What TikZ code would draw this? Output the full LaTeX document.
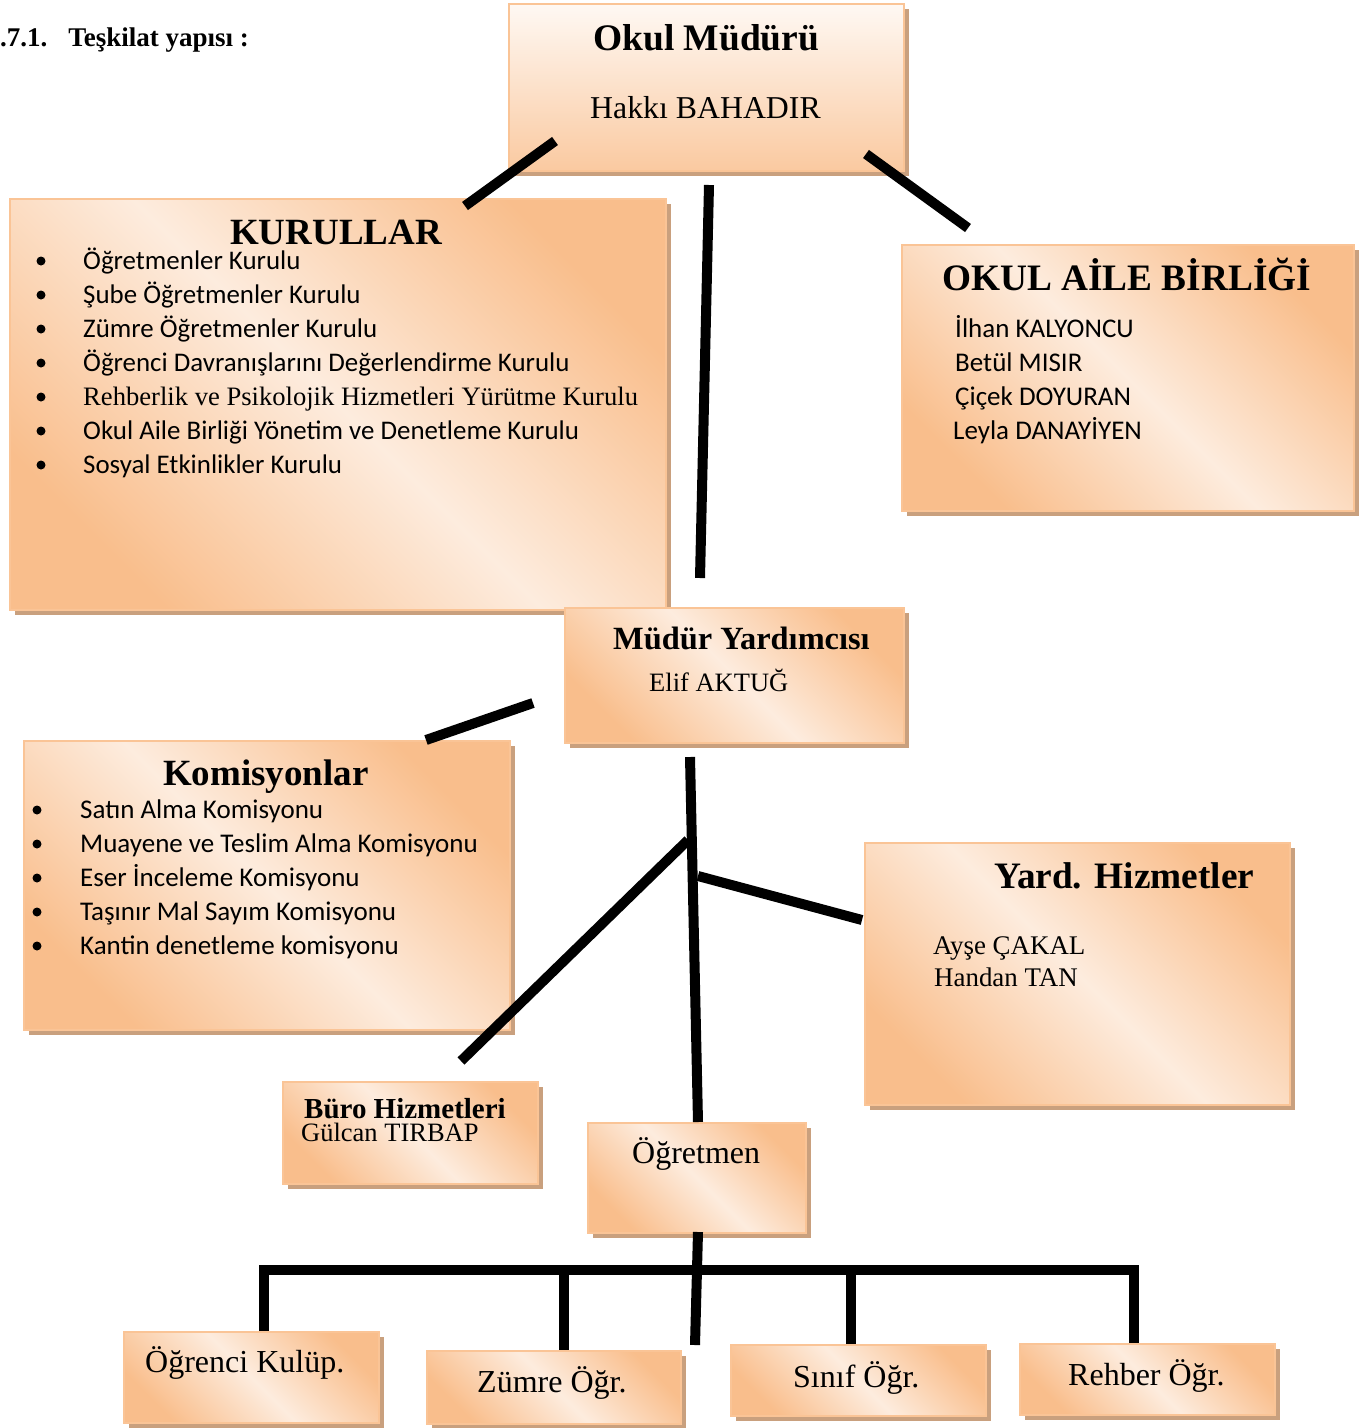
\documentclass[tikz,border=0pt]{standalone}
\usepackage{fontspec}
\setmainfont{Liberation Serif}
\newfontfamily\calfont{Carlito}
\usetikzlibrary{shadows}
\definecolor{oc}{RGB}{249,190,140}
\definecolor{lc}{RGB}{253,236,222}
\definecolor{bordc}{RGB}{250,196,150}
\definecolor{shc}{RGB}{201,160,126}
\newcommand{\fsz}[1]{\fontsize{#1}{#1}\selectfont}
\begin{document}
\begin{tikzpicture}[x=1pt,y=-1pt,
  box/.style={draw=bordc, line width=1.5pt, anchor=north west, inner sep=0pt,
    top color=oc, bottom color=oc, middle color=lc, shading angle=-45,
    drop shadow={shadow xshift=5pt, shadow yshift=-5pt, fill=shc, opacity=1}},
  vbox/.style={box, top color=lc!35!white, bottom color=oc!75!lc, shading angle=0},
  conn/.style={line width=10pt, black},
  txt/.style={anchor=base west, inner sep=0pt, text=black},
  bul/.style={fill=black}]
\useasboundingbox (0,0) rectangle (1372,1428);

% header
\node[txt, font=\bfseries\fsz{27}] (head) at (0,46) {.7.1.\hskip 21pt Teşkilat yapısı :};

% boxes
\node[vbox, minimum width=395pt, minimum height=167pt] (mudur) at (508,3) {};
\node[box, minimum width=656pt, minimum height=411pt] (kurul) at (9,198) {};
\node[box, minimum width=452pt, minimum height=266pt] (aile) at (901,244) {};
\node[box, minimum width=339pt, minimum height=135pt] (yard) at (564,607) {};
\node[box, minimum width=486pt, minimum height=289pt] (komis) at (23,740) {};
\node[box, minimum width=425pt, minimum height=262pt] (yhiz) at (864,842) {};
\node[box, minimum width=255pt, minimum height=102pt] (buro) at (282,1081) {};
\node[box, minimum width=218pt, minimum height=110pt] (ogrt) at (587,1122) {};
\node[box, minimum width=255pt, minimum height=91pt] (kulup) at (123,1331) {};
\node[box, minimum width=254pt, minimum height=73pt] (zumre) at (426,1350) {};
\node[box, minimum width=255pt, minimum height=71pt] (sinif) at (730,1344) {};
\node[box, minimum width=255pt, minimum height=71pt] (rehber) at (1019,1343) {};

% texts
\node[txt, font=\bfseries\fsz{37.5}] (t1) at (593,50) {Okul Müdürü};
\node[txt, font=\fsz{31.8}] (t2) at (590,118) {Hakkı BAHADIR};
\node[txt, font=\bfseries\fsz{37}] (t3) at (230,244) {KURULLAR};
\foreach \t [count=\i] in {Öğretmenler Kurulu, Şube Öğretmenler Kurulu, Zümre Öğretmenler Kurulu, Öğrenci Davranışlarını Değerlendirme Kurulu, {}, Okul Aile Birliği Yönetim ve Denetleme Kurulu, Sosyal Etkinlikler Kurulu}{
  \node[txt, font=\calfont\fsz{26.9}] (k\i) at (83,{261+34*(\i-1)+8}) {\t};
  \fill[bul] (41,{261+34*(\i-1)}) circle (4.5pt);
}
\node[txt, font=\fsz{26.6}] (k5b) at (83,405) {Rehberlik ve Psikolojik Hizmetleri Yürütme Kurulu};

\node[txt, font=\bfseries\fsz{37.3}] (t4) at (942,290) {OKUL AİLE BİRLİĞİ};
\node[txt, font=\calfont\fsz{27}] (a1) at (955,337) {İlhan KALYONCU};
\node[txt, font=\calfont\fsz{27}] (a2) at (955,371) {Betül MISIR};
\node[txt, font=\calfont\fsz{27}] (a3) at (955,405) {Çiçek DOYURAN};
\node[txt, font=\calfont\fsz{27}] (a4) at (953,439) {Leyla DANAYİYEN};

\node[txt, font=\bfseries\fsz{32.4}] (t5) at (613,649) {Müdür Yardımcısı};
\node[txt, font=\fsz{26.5}] (t6) at (649,691) {Elif AKTUĞ};

\node[txt, font=\bfseries\fsz{37}] (t7) at (163,785) {Komisyonlar};
\foreach \t [count=\i] in {Satın Alma Komisyonu, Muayene ve Teslim Alma Komisyonu, Eser İnceleme Komisyonu, Taşınır Mal Sayım Komisyonu, Kantin denetleme komisyonu}{
  \node[txt, font=\calfont\fsz{27}] (m\i) at (80,{810+34*(\i-1)+8}) {\t};
  \fill[bul] (37,{810+34*(\i-1)}) circle (4.5pt);
}

\node[txt, font=\bfseries\fsz{37.3}] (t8) at (994,888) {Yard. Hizmetler};
\node[txt, font=\fsz{26.9}] (y1) at (933,954) {Ayşe ÇAKAL};
\node[txt, font=\fsz{26.9}] (y2) at (934,986) {Handan TAN};

\node[txt, font=\bfseries\fsz{29}, text depth=0pt] (t9) at (304,1118) {Büro Hizmetleri};
\node[txt, font=\fsz{26.5}, text height=18pt] (t10) at (301,1141) {Gülcan TIRBAP};
\node[txt, font=\fsz{32}] (t11) at (632,1163) {Öğretmen};
\node[txt, font=\fsz{32}] (t12) at (145,1372) {Öğrenci Kulüp.};
\node[txt, font=\fsz{32}] (t13) at (477,1392) {Zümre Öğr.};
\node[txt, font=\fsz{32}] (t14) at (793,1387) {Sınıf Öğr.};
\node[txt, font=\fsz{32}] (t15) at (1068,1385) {Rehber Öğr.};

% connectors
\coordinate (c1a) at (555,141); \coordinate (c1b) at (465,206);
\coordinate (c2a) at (866,154); \coordinate (c2b) at (968,228);
\coordinate (c3a) at (709,185); \coordinate (c3b) at (700,578);
\coordinate (c4a) at (533,703); \coordinate (c4b) at (426,740);
\coordinate (c5a) at (690,757); \coordinate (c5b) at (698,1122);
\coordinate (c6a) at (688,840); \coordinate (c6b) at (461,1061);
\coordinate (c7a) at (698,876); \coordinate (c7b) at (862,920);
\coordinate (c8a) at (698,1232); \coordinate (c8b) at (695,1345);
\coordinate (bl) at (264,1270); \coordinate (br) at (1134,1270);
\draw[conn] (c1a) -- (c1b);
\draw[conn] (c2a) -- (c2b);
\draw[conn] (c3a) -- (c3b);
\draw[conn] (c4a) -- (c4b);
\draw[conn] (c5a) -- (c5b);
\draw[conn] (c6a) -- (c6b);
\draw[conn] (c7a) -- (c7b);
\draw[conn] (c8a) -- (c8b);
\draw[conn, line join=miter] (kulup.north west -| bl) -- (bl) -- (br) -- (rehber.north west -| br);
\draw[conn] (564,1270) -- (zumre.north west -| 564,0);
\draw[conn] (851,1270) -- (sinif.north west -| 851,0);
\end{tikzpicture}
\end{document}
